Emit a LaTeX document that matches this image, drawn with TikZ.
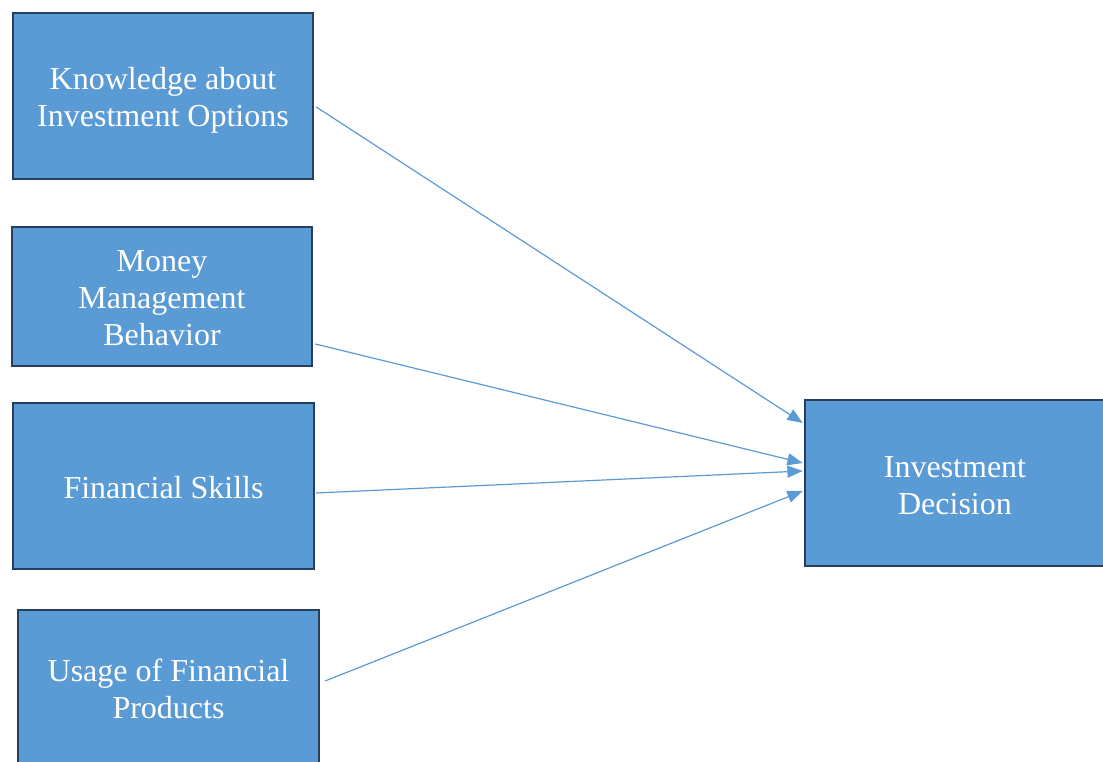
\documentclass[tikz,border=0pt]{standalone}
\usepackage{fontspec}
\setmainfont{Liberation Serif}
\usetikzlibrary{arrows.meta,calc}
\definecolor{boxfill}{HTML}{5B9BD5}
\definecolor{boxline}{HTML}{263F5E}
\definecolor{arrowline}{HTML}{5B9BD5}
\tikzset{
  factor/.style={rectangle, draw=boxline, fill=boxfill, line width=1.9pt,
    inner sep=0pt},
  caption/.style={text=white, align=center, inner sep=0pt,
    font=\fontsize{24}{27.75}\selectfont},
  link/.style={draw=arrowline, line width=0.9pt,
    -{Triangle[length=11.5pt,width=9pt]}}
}
\begin{document}
\begin{tikzpicture}[x=0.75pt,y=-0.75pt]
  \useasboundingbox (0,0) rectangle (1103,762);
  \clip (0,0) rectangle (1103,762);
  % explanatory factors
  \node[factor, minimum width=225pt, minimum height=124.5pt,
    label={[caption, yshift=-3.2pt]center:Knowledge about\\Investment Options}]
    (k) at (163,96) {};
  \node[factor, minimum width=225pt, minimum height=104pt,
    label={[caption, yshift=-1.5pt]center:Money\\Management\\Behavior}]
    (m) at (162,296.5) {};
  \node[factor, minimum width=225.5pt, minimum height=124.5pt,
    label={[caption, yshift=-1.5pt]center:Financial Skills}]
    (f) at (163.5,486) {};
  \node[factor, minimum width=225.5pt, minimum height=120pt,
    label={[caption, yshift=0.6pt]center:Usage of Financial\\Products}]
    (u) at (168.5,690) {};
  % outcome
  \node[factor, minimum width=225pt, minimum height=124.5pt,
    label={[caption, yshift=-2.3pt]center:Investment\\Decision}]
    (d) at (955,483) {};
  % effects
  \draw[link] ($(k.east)+(2,11)$) -- ($(d.west)+(-1,-60)$);
  \draw[link] ($(m.east)+(2,47.5)$) -- ($(d.west)+(-1,-20)$);
  \draw[link] ($(f.east)+(1,7)$) -- ($(d.west)+(-1,-12)$);
  \draw[link] ($(u.east)+(5,-9)$) -- ($(d.west)+(-1,8)$);
\end{tikzpicture}
\end{document}
